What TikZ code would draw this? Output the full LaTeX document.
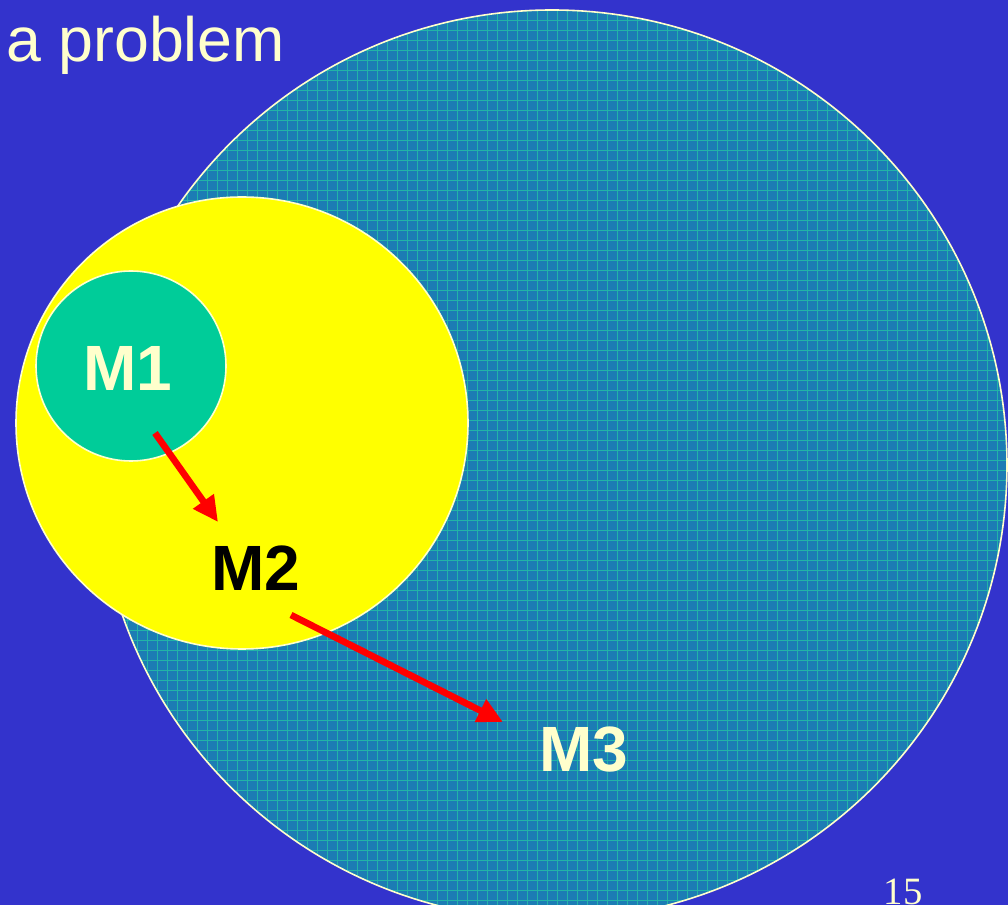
\documentclass[tikz,border=0pt]{standalone}
\usepackage{fontspec}
\setmainfont{Liberation Sans}
\newfontfamily\serifnum{Liberation Serif}
\usepackage{tikz}
\usetikzlibrary{arrows.meta}
\definecolor{slide}{HTML}{3333CC}
\definecolor{paper}{HTML}{FFFFCC}
\definecolor{sea}{HTML}{1C7CB4}
\definecolor{seagrid}{HTML}{22B4A8}
\definecolor{mint}{HTML}{00CC99}
\definecolor{lemon}{HTML}{FFFF00}

\begin{document}
\begin{tikzpicture}[x=0.75pt, y=-0.75pt,
  ring/.style={draw=paper, line width=1.2pt},
  lbl/.style={inner sep=0pt, font=\bfseries\fontsize{48}{56}\selectfont},
  arr/.style={-{Triangle[length=19pt,width=18pt]}, line width=5pt,
              color=red}]
  \fill[slide] (0,0) rectangle (1008,905);
  \useasboundingbox (0,0) rectangle (1008,905);
  % big set with its grid
  \fill[sea] (552,465) circle[radius=455];
  \begin{scope}
    \clip (552,465) circle[radius=455];
    \foreach \g in {97,107,...,1007}
      {\draw[seagrid, line width=0.5pt] (\g,0) -- (\g,930);}
    \foreach \g in {10,20,...,920}
      {\draw[seagrid, line width=0.5pt] (90,\g) -- (1010,\g);}
  \end{scope}
  \draw[ring] (552,465) circle[radius=455];
  % nested sets
  \draw[ring, fill=lemon] (242,423) circle[radius=226];
  \draw[ring, fill=mint]  (131,366) circle[radius=95];
  \node[lbl, text=paper] (m1) at (128,368) {M1};
  \node[lbl, text=black] (m2) at (256,568) {M2};
  \node[lbl, text=paper] (m3) at (584,750) {M3};
  \draw[arr] ([shift={(27,65)}]m1.center) -- ([shift={(-38,-46)}]m2.center);
  \draw[arr] ([shift={(35,47)}]m2.center) -- ([shift={(-81,-28)}]m3.center);
  \node[anchor=base west, inner sep=0pt, text=paper,
        font=\fontsize{47}{56}\selectfont] (title) at (6,62) {a problem};
  \node[anchor=base, inner sep=0pt, text=paper,
        font=\serifnum\fontsize{29}{34}\selectfont] (pg) at (903,904) {15};
\end{tikzpicture}
\end{document}
